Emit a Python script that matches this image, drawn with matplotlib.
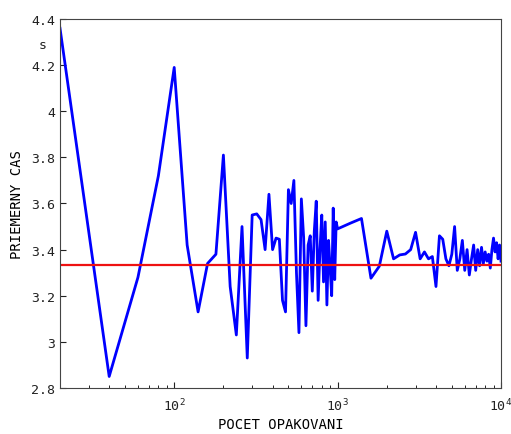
import matplotlib
matplotlib.use("Agg")
import matplotlib.pyplot as plt
from matplotlib.ticker import LogLocator, FixedLocator, NullFormatter

plt.rcParams['font.family'] = ['DejaVu Sans Mono', 'DejaVu Sans']
plt.rcParams['mathtext.default'] = 'regular'

pocet = [20, 40, 60, 80, 100, 120, 140, 160, 180, 200,
         220, 240, 260, 280, 300, 320, 340, 360, 380, 400,
         420, 440, 460, 480, 500, 520, 540, 560, 580, 600,
         620, 640, 660, 680, 700, 720, 740, 760, 780, 800,
         820, 840, 860, 880, 900, 920, 940, 960, 980, 1000,
         1200, 1400, 1600, 1800, 2000, 2200, 2400, 2600, 2800, 3000,
         3200, 3400, 3600, 3800, 4000, 4200, 4400, 4600, 4800, 5000,
         5200, 5400, 5600, 5800, 6000, 6200, 6400, 6600, 6800, 7000,
         7200, 7400, 7600, 7800, 8000, 8200, 8400, 8600, 8800, 9000,
         9200, 9400, 9600, 9800, 10000]
cas = [4.36, 2.85, 3.28, 3.72, 4.19, 3.42, 3.13, 3.34, 3.38, 3.81,
       3.24, 3.03, 3.50, 2.93, 3.55, 3.555, 3.53, 3.40, 3.64, 3.40,
       3.45, 3.445, 3.18, 3.13, 3.66, 3.60, 3.70, 3.30, 3.04, 3.62,
       3.45, 3.07, 3.42, 3.46, 3.22, 3.48, 3.61, 3.18, 3.40, 3.55,
       3.26, 3.52, 3.16, 3.44, 3.32, 3.20, 3.58, 3.27, 3.52, 3.49,
       3.515, 3.535, 3.276, 3.328, 3.48, 3.36, 3.377, 3.381, 3.40, 3.475,
       3.36, 3.39, 3.36, 3.37, 3.24, 3.46, 3.445, 3.36, 3.33, 3.38,
       3.50, 3.31, 3.36, 3.44, 3.31, 3.40, 3.29, 3.36, 3.42, 3.31,
       3.40, 3.33, 3.41, 3.34, 3.39, 3.35, 3.38, 3.32, 3.40, 3.45,
       3.39, 3.43, 3.36, 3.42, 3.35]
priemer = 3.333
y_ticks = [2.8, 3.0, 3.2, 3.4, 3.6, 3.8, 4.0, 4.2, 4.4]
y_tick_labels = ['2.8', '3', '3.2', '3.4', '3.6', '3.8', '4', '4.2', '4.4']

fig = plt.figure(figsize=(5.11, 4.35), dpi=100)
ax = fig.add_axes([60/511, 46/435, 441/511, 369/435])

ax.plot(pocet, cas, color='#0000ff', lw=2.0)
ax.axhline(priemer, color='#ee1111', lw=1.6)

ax.set_xscale('log')
ax.set_xlim(20, 10000)
ax.set_ylim(2.8, 4.4)
ax.yaxis.set_major_locator(FixedLocator(y_ticks))
ax.set_yticklabels(y_tick_labels)
ax.xaxis.set_major_locator(LogLocator(base=10, numticks=10))
ax.xaxis.set_minor_locator(LogLocator(base=10, subs=range(2, 10), numticks=20))
ax.xaxis.set_minor_formatter(NullFormatter())

ax.tick_params(axis='both', which='major', direction='in', length=4, width=0.8,
               labelsize=9.5, colors='#222222', top=False, right=False)
ax.tick_params(axis='x', which='minor', direction='in', length=2.5, width=0.6,
               top=False)
ax.tick_params(axis='x', which='major', pad=6)
for s in ax.spines.values():
    s.set_color('#444444')
    s.set_linewidth(0.8)

ax.set_xlabel('POCET OPAKOVANI', fontsize=10, labelpad=3)
ax.set_ylabel('PRIEMERNY CAS', fontsize=10, labelpad=5)
ax.text(-0.04, 0.932, 's', transform=ax.transAxes, fontsize=9.5,
        ha='center', va='center', color='#222222')

fig.savefig('out.png', dpi=100)
